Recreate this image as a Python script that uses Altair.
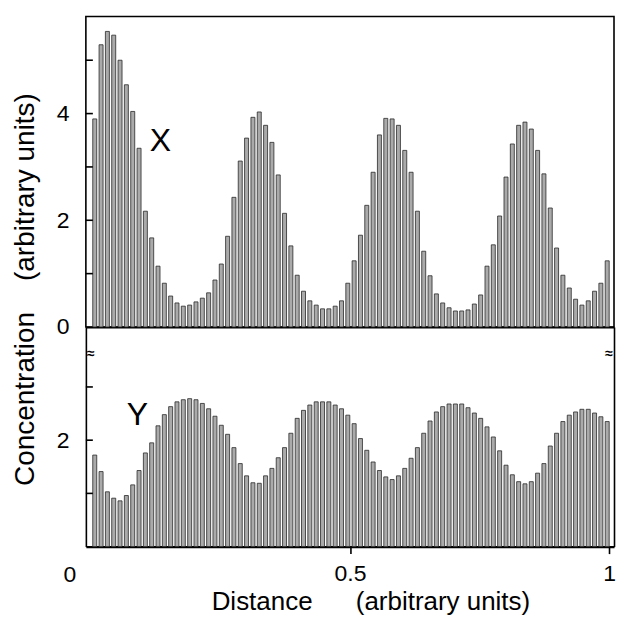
import altair as alt
import pandas as pd

# concentration of X (upper panel), one value per sampled position
x_conc = [3.9, 5.29, 5.54, 5.47, 5.0, 4.54, 4.04, 3.35, 2.17, 1.67,
          1.14, 0.82, 0.58, 0.45, 0.39, 0.41, 0.47, 0.54, 0.64, 0.88,
          1.18, 1.70, 2.43, 3.11, 3.54, 3.93, 4.03, 3.78, 3.46, 2.85,
          2.13, 1.52, 0.97, 0.67, 0.49, 0.41, 0.34, 0.34, 0.39, 0.49,
          0.82, 1.24, 1.72, 2.28, 2.90, 3.60, 3.91, 3.90, 3.78, 3.31,
          2.90, 2.17, 1.42, 0.96, 0.62, 0.45, 0.36, 0.30, 0.30, 0.32,
          0.43, 0.60, 1.14, 1.54, 2.08, 2.81, 3.43, 3.78, 3.84, 3.71,
          3.31, 2.87, 2.23, 1.48, 0.97, 0.73, 0.52, 0.41, 0.49, 0.67,
          0.82, 1.24]

# concentration of Y (lower panel)
y_conc = [1.72, 1.41, 1.03, 0.91, 0.86, 0.96, 1.16, 1.43, 1.76, 1.95,
          2.27, 2.48, 2.63, 2.72, 2.76, 2.78, 2.76, 2.69, 2.59, 2.45,
          2.28, 2.11, 1.86, 1.56, 1.33, 1.20, 1.19, 1.33, 1.47, 1.67,
          1.86, 2.13, 2.41, 2.56, 2.66, 2.72, 2.72, 2.72, 2.66, 2.59,
          2.47, 2.31, 2.03, 1.81, 1.59, 1.43, 1.31, 1.26, 1.33, 1.47,
          1.66, 1.86, 2.13, 2.36, 2.53, 2.63, 2.68, 2.68, 2.68, 2.61,
          2.51, 2.41, 2.25, 2.06, 1.80, 1.53, 1.35, 1.22, 1.18, 1.22,
          1.38, 1.56, 1.89, 2.13, 2.35, 2.47, 2.53, 2.58, 2.58, 2.51,
          2.44, 2.35]

# sampling grid (distance of each bar)
n_bars = len(x_conc)
first_pos = 0.0075
step = 0.01221
distance = [round(first_pos + step * i, 4) for i in range(n_bars)]

x_ticks = [0.5, 1]
x_zero_label = ["0"]
top_ticks = [1, 2, 3, 4, 5]
top_labels = [0, 2, 4]
bottom_ticks = [1, 2, 3]
bottom_labels = [2]

top_domain = [0, 5.82]
bottom_domain = [0, 4.127]

W = 529
H_TOP = 311
H_BOT = 220

FONT = "Liberation Sans"

top_df = pd.DataFrame({"Distance": distance, "X": x_conc})
bot_df = pd.DataFrame({"Distance": distance, "Y": y_conc})
top_tick_df = pd.DataFrame({"v": top_ticks})
bot_tick_df = pd.DataFrame({"v": bottom_ticks})
top_name_df = pd.DataFrame({"d": [0.134], "v": [3.48], "t": ["X"]})
bot_name_df = pd.DataFrame({"d": [0.09], "v": [2.48], "t": ["Y"]})
break_df = pd.DataFrame({"d": [0, 1], "v": [3.62, 3.62], "t": ["≈", "≈"]})
zero_df = pd.DataFrame({"d": [0], "v": [0], "t": x_zero_label})

xscale = alt.Scale(domain=[0, 1], nice=False, zero=False)
bar_style = dict(width=4, fill="#aaaaaa", stroke="#2a2a2a", strokeWidth=0.8)

# ---------- top panel (X) ----------
top_bars = alt.Chart(top_df).mark_bar(**bar_style).encode(
    x=alt.X("Distance:Q", scale=xscale,
            axis=alt.Axis(labels=False, ticks=False, domainWidth=2.2, title="")),
    y=alt.Y("X:Q", scale=alt.Scale(domain=top_domain, nice=False),
            axis=alt.Axis(values=top_labels, ticks=False, domain=False,
                          labelPadding=17,
                          title="Concentration\u00a0\u00a0\u00a0\u00a0(arbitrary units)",
                          titleFontSize=28, titleAngle=270,
                          titleAlign="center", titleBaseline="middle",
                          titleX=-60, titleY=273)),
)
top_tick_marks = alt.Chart(top_tick_df).mark_rule(color="black", strokeWidth=1.6).encode(
    y=alt.Y("v:Q", axis=None), x=alt.value(0), x2=alt.value(7)
)
top_name = alt.Chart(top_name_df).mark_text(fontSize=32, font=FONT, color="black").encode(
    x=alt.X("d:Q", axis=None), y=alt.Y("v:Q", axis=None), text="t:N"
)
top = alt.layer(top_bars, top_tick_marks, top_name).resolve_axis(
    x="independent", y="independent"
).properties(
    width=W, height=H_TOP,
    view=alt.ViewBackground(stroke="black", strokeWidth=1.6),
)

# ---------- bottom panel (Y) ----------
bot_bars = alt.Chart(bot_df).mark_bar(**bar_style).encode(
    x=alt.X("Distance:Q", scale=xscale,
            axis=alt.Axis(values=x_ticks, format="~g", domainWidth=2.2,
                          ticks=True, tickWidth=1.6, tickSize=7,
                          labelPadding=9, labelFlush=True, labelFlushOffset=2,
                          title="Distance\u00a0\u00a0\u00a0\u00a0\u00a0\u00a0(arbitrary units)",
                          titleFontSize=26, titleX=285, titleY=55,
                          titleAlign="center", titleBaseline="middle")),
    y=alt.Y("Y:Q", scale=alt.Scale(domain=bottom_domain, nice=False),
            axis=alt.Axis(values=bottom_labels, ticks=False, domainWidth=1.6,
                          labelPadding=17, title="")),
)
bot_right = alt.Chart(bot_df).mark_bar(opacity=0).encode(
    x=alt.X("Distance:Q", scale=xscale, axis=None),
    y=alt.Y("Y:Q", axis=alt.Axis(orient="right", labels=False, ticks=False,
                                 domainWidth=1.6, title="")),
)
bot_tick_marks = alt.Chart(bot_tick_df).mark_rule(color="black", strokeWidth=1.6).encode(
    y=alt.Y("v:Q", axis=None), x=alt.value(0), x2=alt.value(7)
)
bot_name = alt.Chart(bot_name_df).mark_text(fontSize=32, font=FONT, color="black").encode(
    x=alt.X("d:Q", axis=None), y=alt.Y("v:Q", axis=None), text="t:N"
)
breaks = alt.Chart(break_df).mark_text(fontSize=14, font=FONT, color="black",
                                       fontWeight="bold").encode(
    x=alt.X("d:Q", axis=None), y=alt.Y("v:Q", axis=None), text="t:N"
)
zero_lab = alt.Chart(zero_df).mark_text(fontSize=23, font=FONT, color="black",
                                        baseline="top", dx=-21, dy=17).encode(
    x=alt.X("d:Q", axis=None), y=alt.Y("v:Q", axis=None), text="t:N"
)
bottom = alt.layer(bot_bars, bot_right, bot_tick_marks, bot_name, breaks, zero_lab).resolve_axis(
    x="independent", y="independent"
).properties(
    width=W, height=H_BOT,
    view=alt.ViewBackground(stroke="transparent"),
)

chart = alt.vconcat(top, bottom, spacing=0, bounds="flush").properties(
    padding={"left": 3, "top": 7, "right": 0, "bottom": 0},
    background="white",
).configure_view(
    stroke="transparent"
).configure_axis(
    grid=False,
    domainColor="black",
    tickColor="black",
    labelFont=FONT,
    labelFontSize=23,
    labelColor="black",
    titleFont=FONT,
    titleFontWeight="normal",
    titleColor="black",
)

chart.save("out.html", embed_options={"renderer": "svg", "actions": False})
